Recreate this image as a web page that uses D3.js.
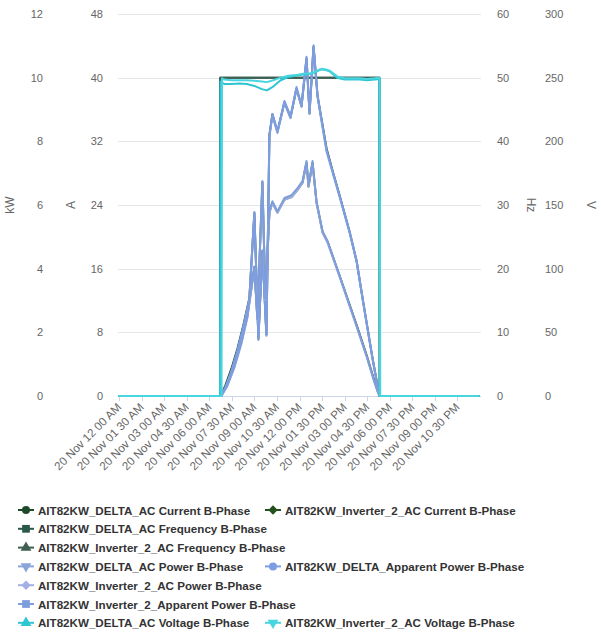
<!DOCTYPE html>
<html>
<head>
<meta charset="utf-8">
<script src="https://cdn.jsdelivr.net/npm/d3@7"></script>
<style>
  body { margin: 0; background: #ffffff; }
  #chart { width: 601px; height: 634px; }
</style>
</head>
<body>
<div id="chart"></div>
<script>

/***** dane *****/

// znaczniki osi x (co 1,5 godziny)
var xTickTimes = ["00:00","01:30","03:00","04:30","06:00","07:30","09:00","10:30",
                  "12:00","13:30","15:00","16:30","18:00","19:30","21:00","22:30"];

var kwTicks = [0, 2, 4, 6, 8, 10, 12];
var ampTicks = [0, 8, 16, 24, 32, 40, 48];
var hzTicks = [0, 10, 20, 30, 40, 50, 60];
var voltTicks = [0, 50, 100, 150, 200, 250, 300];

// DELTA - moc, moc pozorna, prad
var tDelta = ["06:44","07:04","07:28","07:52","08:16","08:40","09:00","09:16","09:32","09:48",
              "10:00","10:12","10:32","11:00","11:24","11:48","12:08","12:28","12:40","12:56",
              "13:12","13:28","13:48","14:12","14:40","15:20","15:48","16:12","16:32","16:52",
              "17:08","17:20"];
var deltaPower = [0,0.25,0.75,1.38,2.14,3.02,5.72,1.76,4.52,1.89,
                  8.14,8.80,8.26,9.21,8.73,9.65,9.08,10.59,8.86,10.96,
                  9.39,8.61,7.67,7.01,6.25,5.12,4.21,3.02,2.07,1.13,
                  0.44,0];
var deltaApparent = [0,0.27,0.78,1.42,2.18,3.06,5.78,1.80,4.58,1.93,
                     8.20,8.86,8.32,9.27,8.79,9.71,9.14,10.66,8.92,11.02,
                     9.45,8.67,7.73,7.06,6.30,5.17,4.25,3.06,2.10,1.16,
                     0.46,0];
var deltaCurrent = [0,1.3,3.4,5.9,8.9,12.3,23.0,7.2,18.2,7.7,
                    32.8,35.4,33.2,36.9,35.0,38.6,36.4,42.4,35.5,43.9,
                    37.7,34.8,31.1,28.3,25.2,20.6,16.9,12.2,8.4,4.6,
                    1.9,0];

// Inverter_2 - moc, moc pozorna, prad
var tInv = ["06:48","07:12","07:40","08:08","08:32","09:00","09:12","09:32","09:44","10:00",
            "10:12","10:32","11:00","11:28","11:52","12:12","12:28","12:36","12:52","13:08",
            "13:32","13:52","14:40","15:48","16:28","16:56","17:12","17:20"];
var invPower = [0,0.31,0.88,1.63,2.45,4.02,2.39,6.69,3.02,5.75,
                6.06,5.75,6.16,6.25,6.47,6.69,7.32,6.57,7.32,6.06,
                5.12,4.81,3.74,2.17,1.23,0.50,0.13,0];
var invApparent = [0,0.33,0.91,1.67,2.49,4.07,2.43,6.75,3.06,5.81,
                   6.12,5.80,6.22,6.31,6.53,6.75,7.38,6.63,7.38,6.12,
                   5.17,4.86,3.78,2.20,1.25,0.52,0.14,0];
var invCurrent = [0,1.5,3.8,6.8,10.1,16.2,9.7,26.9,12.2,23.1,
                  24.3,23.1,24.7,25.0,25.9,26.8,29.3,26.3,29.3,24.3,
                  20.6,19.4,15.1,8.9,5.1,2.2,0.6,0];

// czestotliwosc
var tFreq = ["00:00","06:43","06:44","09:00","12:00","15:00","17:19","17:20","23:55"];
var freqDelta = [0,0,50.0,50.0,50.0,50.0,50.0,0,0];
var freqInv = [0,0,50.0,50.0,50.0,50.0,50.0,0,0];

// napiecie
var tVoltDelta = ["00:00","06:43","06:45","07:00","07:30","08:00","08:30","09:00","09:30","09:50",
                  "10:15","10:45","11:15","11:45","12:15","12:45","13:00","13:15","13:30","13:45",
                  "14:00","14:30","15:00","15:30","16:00","16:30","17:00","17:18","17:20","23:55"];
var voltDelta = [0,0,247,245,245,245.5,245,243.5,241,240,
                 243,248,250.5,251.5,252.5,253,254,255.5,256.5,256,
                 255,250,248.5,248.5,248.5,248,248.5,249,0,0];
var tVoltInv = ["00:00","06:49","06:51","07:00","07:30","08:00","08:30","09:00","09:30","09:50",
                "10:15","10:45","11:15","11:45","12:15","12:45","13:00","13:15","13:30","13:45",
                "14:00","14:30","15:00","15:30","16:00","16:30","17:00","17:20","17:22","23:55"];
var voltInv = [0,0,249.5,248.5,248,248,248,247.5,247,246.5,
               248,250,251.5,252,253,253.5,254.5,256,257,256.5,
               255.5,251,249.5,249.5,249.5,249,249.5,250,0,0];

var seriesNames = [
  "AIT82KW_DELTA_AC Current B-Phase",
  "AIT82KW_Inverter_2_AC Current B-Phase",
  "AIT82KW_DELTA_AC Frequency B-Phase",
  "AIT82KW_Inverter_2_AC Frequency B-Phase",
  "AIT82KW_DELTA_AC Power B-Phase",
  "AIT82KW_DELTA_Apparent Power B-Phase",
  "AIT82KW_Inverter_2_AC Power B-Phase",
  "AIT82KW_Inverter_2_Apparent Power B-Phase",
  "AIT82KW_DELTA_AC Voltage B-Phase",
  "AIT82KW_Inverter_2_AC Voltage B-Phase"
];
var seriesTimes = [tDelta, tInv, tFreq, tFreq, tDelta, tDelta, tInv, tInv, tVoltDelta, tVoltInv];
var seriesValues = [deltaCurrent, invCurrent, freqDelta, freqInv, deltaPower, deltaApparent,
                    invPower, invApparent, voltDelta, voltInv];
var seriesAxis = ["A", "A", "Hz", "Hz", "kW", "kW", "kW", "kW", "V", "V"];

// wyglad serii
var seriesColors = ["#1e4a2c", "#24501f", "#2b5947", "#3e5f52", "#8aa5da",
                    "#7c9de2", "#a3b0e2", "#7e9ddd", "#2fc6d2", "#48d5df"];
var seriesSymbols = ["circle", "diamond", "square", "triangle", "triangle-down",
                     "circle", "diamond", "square", "triangle", "triangle-down"];

// uklad legendy (indeksy serii w wierszach)
var legendRows = [[0, 1], [2], [3], [4, 5], [6], [7], [8, 9]];


/***** obszar rysowania *****/

var plot = {left: 119, right: 480, top: 14, bottom: 396};

var svg = d3.select("#chart")
  .append("svg")
  .attr("width", 601)
  .attr("height", 634)
  .style("font-family", "'Liberation Sans', Arial, sans-serif");

var parseT = function(s) {
  return new Date(2020, 10, 20, +s.slice(0, 2), +s.slice(3, 5));
};

var x = d3.scaleTime()
  .domain([new Date(2020, 10, 20, 0, 0), new Date(2020, 10, 21, 0, 0)])
  .range([plot.left, plot.right]);

var yScales = {
  kW: d3.scaleLinear().domain([0, 12]).range([plot.bottom, plot.top]),
  A: d3.scaleLinear().domain([0, 48]).range([plot.bottom, plot.top]),
  Hz: d3.scaleLinear().domain([0, 60]).range([plot.bottom, plot.top]),
  V: d3.scaleLinear().domain([0, 300]).range([plot.bottom, plot.top])
};

// siatka
svg.append("g")
  .selectAll("line")
  .data(kwTicks)
  .enter()
  .append("line")
  .attr("x1", plot.left - 1)
  .attr("x2", plot.right + 1)
  .attr("y1", function(d) { return Math.round(yScales.kW(d)) + 0.5; })
  .attr("y2", function(d) { return Math.round(yScales.kW(d)) + 0.5; })
  .attr("stroke", "#e6e6e6")
  .attr("stroke-width", 1);

// os x
var xTicks = xTickTimes.map(parseT);
var fmt = d3.timeFormat("%d %b %I %M %p");

svg.append("line")
  .attr("x1", plot.left - 1)
  .attr("x2", plot.right + 1)
  .attr("y1", plot.bottom + 0.5)
  .attr("y2", plot.bottom + 0.5)
  .attr("stroke", "#ccd6eb");

svg.append("g")
  .selectAll("line")
  .data(xTicks)
  .enter()
  .append("line")
  .attr("x1", function(d) { return Math.round(x(d)) + 0.5; })
  .attr("x2", function(d) { return Math.round(x(d)) + 0.5; })
  .attr("y1", plot.bottom)
  .attr("y2", plot.bottom + 5)
  .attr("stroke", "#ccd6eb");

svg.append("g")
  .selectAll("text")
  .data(xTicks)
  .enter()
  .append("text")
  .attr("transform", function(d) { return "translate(" + (x(d) + 3) + "," + (plot.bottom + 12) + ") rotate(-45)"; })
  .attr("text-anchor", "end")
  .style("font-size", "11.6px")
  .attr("fill", "#666666")
  .text(function(d) { return fmt(d); });

// osie y
var drawAxis = function(scale, ticks, xpos, side) {
  var ax = side === "left" ? d3.axisLeft(scale) : d3.axisRight(scale);
  ax.tickValues(ticks).tickSize(0).tickPadding(3);
  var g = svg.append("g")
    .attr("transform", "translate(" + xpos + ",0)")
    .call(ax);
  g.select(".domain").remove();
  g.selectAll("text")
    .style("font-size", "11px")
    .style("font-family", "'Liberation Sans', Arial, sans-serif")
    .attr("fill", "#666666");
};

drawAxis(yScales.kW, kwTicks, 46, "left");
drawAxis(yScales.A, ampTicks, 106, "left");
drawAxis(yScales.Hz, hzTicks, 494, "right");
drawAxis(yScales.V, voltTicks, 542, "right");

// tytuly osi
var axisTitles = [
  {t: "kW", x: 14, r: -90},
  {t: "A", x: 75, r: -90},
  {t: "Hz", x: 527, r: 90},
  {t: "V", x: 587, r: 90}
];
svg.append("g")
  .selectAll("text")
  .data(axisTitles)
  .enter()
  .append("text")
  .attr("transform", function(d) { return "translate(" + d.x + "," + 205 + ") rotate(" + d.r + ")"; })
  .attr("text-anchor", "middle")
  .style("font-size", "12px")
  .attr("fill", "#666666")
  .text(function(d) { return d.t; });

// linie serii
var series = seriesNames.map(function(name, i) {
  return {
    name: name,
    color: seriesColors[i],
    symbol: seriesSymbols[i],
    y: yScales[seriesAxis[i]],
    points: seriesTimes[i].map(function(t, j) { return {t: parseT(t), v: seriesValues[i][j]}; })
  };
});

var gLines = svg.append("g");
series.forEach(function(s) {
  var line = d3.line()
    .x(function(p) { return x(p.t); })
    .y(function(p) { return s.y(p.v); });
  gLines.append("path")
    .datum(s.points)
    .attr("d", line)
    .attr("fill", "none")
    .attr("stroke", s.color)
    .attr("stroke-width", 2)
    .attr("stroke-linejoin", "round")
    .attr("stroke-linecap", "round");
});

// symbole
var symbolPath = function(name) {
  if (name === "circle") return d3.symbol().type(d3.symbolCircle).size(50)();
  if (name === "diamond") return d3.symbol().type(d3.symbolSquare).size(44)();
  if (name === "square") return d3.symbol().type(d3.symbolSquare).size(60)();
  return d3.symbol().type(d3.symbolTriangle).size(50)();
};
var symbolRotate = function(name) {
  if (name === "diamond") return 45;
  if (name === "triangle-down") return 180;
  return 0;
};

/***** legenda *****/

var legendCols = [18, 265];
var legend = svg.append("g");

legendRows.forEach(function(row, r) {
  var ly = 510 + r * 18.8;
  row.forEach(function(idx, c) {
    var s = series[idx];
    var lx = legendCols[c];
    var item = legend.append("g").attr("transform", "translate(" + lx + "," + ly + ")");
    item.append("line")
      .attr("x1", 0).attr("x2", 16)
      .attr("y1", 0).attr("y2", 0)
      .attr("stroke", s.color)
      .attr("stroke-width", 2);
    item.append("path")
      .attr("d", symbolPath(s.symbol))
      .attr("transform", "translate(8,0) rotate(" + symbolRotate(s.symbol) + ")")
      .attr("fill", s.color);
    item.append("text")
      .attr("x", 20)
      .attr("y", 4.5)
      .style("font-size", "11.6px")
      .style("font-weight", "bold")
      .attr("fill", "#333333")
      .text(s.name);
  });
});

</script>
</body>
</html>
